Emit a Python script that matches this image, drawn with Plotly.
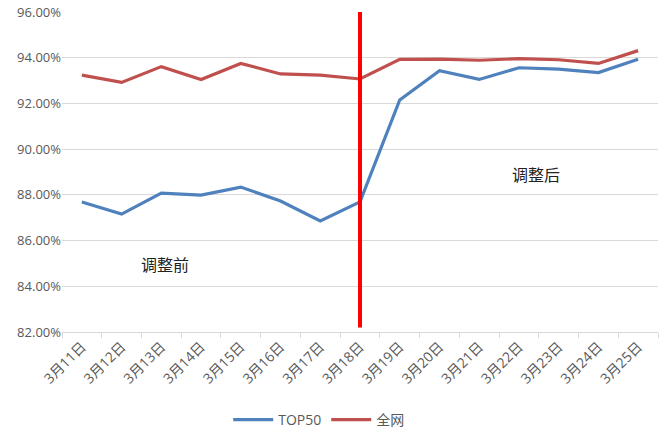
import plotly.graph_objects as go

dates = ["3月11日", "3月12日", "3月13日", "3月14日", "3月15日", "3月16日", "3月17日", "3月18日",
         "3月19日", "3月20日", "3月21日", "3月22日", "3月23日", "3月24日", "3月25日"]
top50 = [87.69, 87.16, 88.08, 87.99, 88.34, 87.73, 86.86, 87.69,
         92.15, 93.43, 93.05, 93.56, 93.50, 93.35, 93.93]
quanwang = [93.24, 92.92, 93.61, 93.05, 93.75, 93.29, 93.24, 93.07,
            93.93, 93.94, 93.89, 93.96, 93.91, 93.75, 94.31]
y_ticks = [82, 84, 86, 88, 90, 92, 94, 96]
split_date = "3月18日"

font_fam = "Open Sans, Noto Sans CJK SC, sans-serif"

fig = go.Figure()
fig.add_trace(go.Scatter(x=dates, y=top50, mode="lines", name="TOP50",
                         line=dict(color="#4F81BD", width=3.2)))
fig.add_trace(go.Scatter(x=dates, y=quanwang, mode="lines", name="全网",
                         line=dict(color="#C0504D", width=3.2)))

fig.add_shape(type="line", xref="x", yref="y", x0=split_date, x1=split_date,
              y0=82.2, y1=96, line=dict(color="#FF0000", width=4))

fig.add_annotation(x=2.09, y=84.98, xref="x", yref="y", text="调整前", showarrow=False,
                   font=dict(family="Noto Sans CJK SC", size=16, color="#222222"))
fig.add_annotation(x=11.44, y=88.91, xref="x", yref="y", text="调整后", showarrow=False,
                   font=dict(family="Noto Sans CJK SC", size=16, color="#222222"))

fig.update_layout(
    width=672, height=439,
    margin=dict(l=62, r=14, t=12, b=107, autoexpand=False),
    paper_bgcolor="white", plot_bgcolor="white",
    font=dict(family=font_fam, size=12, color="#595959"),
    showlegend=True,
    legend=dict(orientation="h", xref="container", x=0.475, xanchor="center",
                yref="container", y=1 - 420 / 439, yanchor="middle",
                font=dict(size=14, color="#595959"), itemwidth=40),
    xaxis=dict(type="category", range=[-0.5, 14.5], tickangle=-45, automargin=False,
               ticks="outside", tickson="boundaries", ticklen=5, tickcolor="#d9d9d9",
               showline=True, linecolor="#d9d9d9", linewidth=1, showgrid=False,
               tickfont=dict(size=14, color="#595959")),
    yaxis=dict(range=[82, 96], tickvals=y_ticks, automargin=False,
               ticktext=[f"{v:.2f}%" for v in y_ticks],
               showgrid=True, gridcolor="#d9d9d9", gridwidth=1, zeroline=False,
               showline=False, ticks="", tickfont=dict(size=13, color="#595959")),
)

fig.write_html("out.html")
